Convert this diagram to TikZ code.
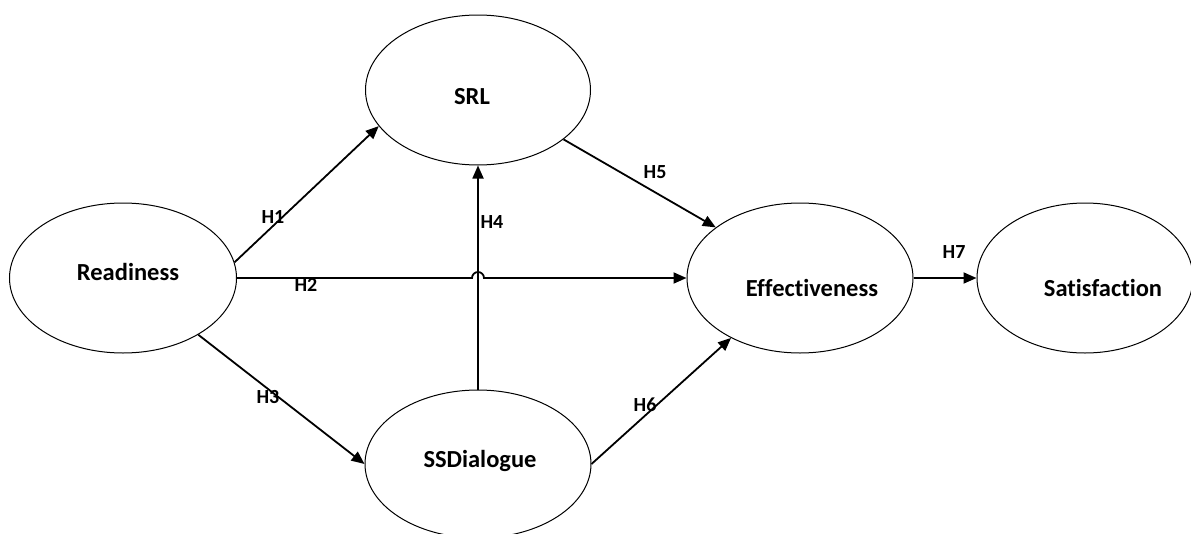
\documentclass[tikz,border=0pt]{standalone}
\usepackage{fontspec}
\setmainfont[Ligatures={NoCommon}]{Carlito}
\usetikzlibrary{arrows.meta,shapes.geometric}
\begin{document}
\begin{tikzpicture}[x=1pt,y=-1pt,
  construct/.style={draw=black,line width=1pt,ellipse,inner sep=0pt,fill=white},
  ctext/.style={font=\fontsize{24.5}{28}\selectfont\bfseries},
  hyp/.style={line width=1.8pt,-{Triangle[length=13pt,width=11pt]}},
  hlabel/.style={font=\fontsize{20}{24}\selectfont\bfseries,inner sep=0pt}]
\useasboundingbox (0,0) rectangle (1191,533);
\node[construct,minimum width=227pt,minimum height=150pt,
  label={[ctext,xshift=5pt,yshift=6pt]center:Readiness}] (R) at (123,278) {};
\node[construct,minimum width=225pt,minimum height=150pt,
  label={[ctext,xshift=-6pt,yshift=-7pt]center:SRL}] (S) at (478,90) {};
\node[construct,minimum width=226pt,minimum height=148pt,
  label={[ctext,xshift=2pt,yshift=3pt]center:SSDialogue}] (D) at (478,464) {};
\node[construct,minimum width=226pt,minimum height=150pt,
  label={[ctext,xshift=12pt,yshift=-10pt]center:Effectiveness}] (E) at (800,278) {};
\node[construct,minimum width=216pt,minimum height=150pt,
  label={[ctext,xshift=18pt,yshift=-10pt]center:Satisfaction}] (F) at (1085,278) {};
% connectors
\draw[hyp] (R.8.7) -- (S.200.5);
\coordinate (jmp) at (D.north |- R.east);
\draw[hyp] (R.east) -- ([xshift=-6pt]jmp) arc[start angle=180,end angle=0,radius=6pt] -- (E.west);
\draw[hyp] (R.-37.9) -- (D.180);
\draw[hyp] (D.north) -- (S.south);
\draw[hyp] (S.-30.2) -- (E.149.5);
\draw[hyp] (D.-0.5) -- (E.221.4);
\draw[hyp] (E.east) -- (F.west);
% labels
\node[hlabel] (l1) at (273,217) {H1};
\node[hlabel] (l2) at (306,285) {H2};
\node[hlabel] (l3) at (268,397) {H3};
\node[hlabel] (l4) at (492,222) {H4};
\node[hlabel] (l5) at (655,172) {H5};
\node[hlabel] (l6) at (645,405) {H6};
\node[hlabel] (l7) at (954,252) {H7};
\end{tikzpicture}
\end{document}
